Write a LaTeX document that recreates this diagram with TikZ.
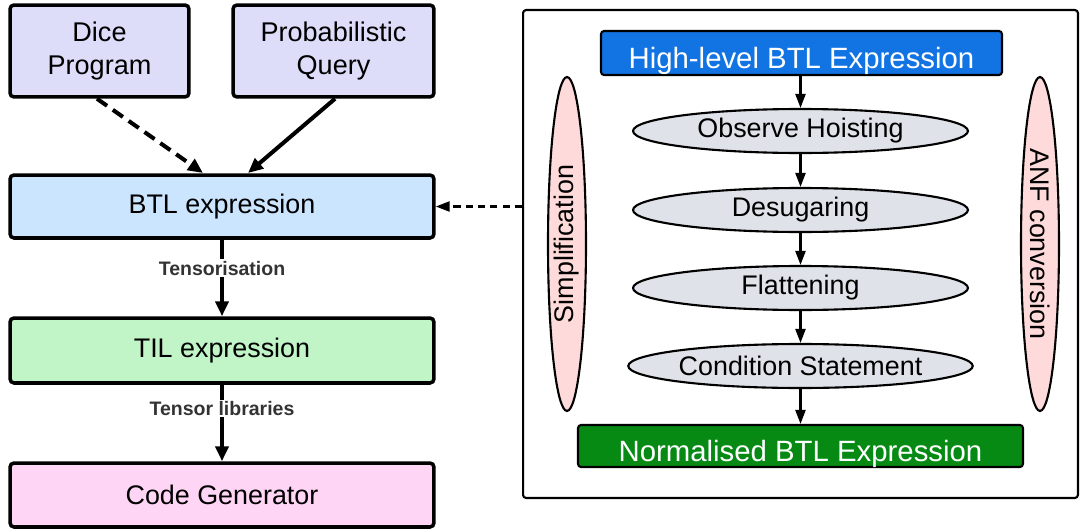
\documentclass[tikz,border=0pt]{standalone}
\usepackage{fontspec}
\setmainfont{Liberation Sans}
\usetikzlibrary{arrows.meta,shapes.geometric}

\definecolor{querycol}{RGB}{221,221,250}
\definecolor{btlcol}{RGB}{204,229,255}
\definecolor{tilcol}{RGB}{193,245,200}
\definecolor{codecol}{RGB}{255,213,245}
\definecolor{highcol}{RGB}{18,115,227}
\definecolor{normcol}{RGB}{6,138,20}
\definecolor{passcol}{RGB}{223,226,232}
\definecolor{sidecol}{RGB}{255,218,218}
\definecolor{labcol}{RGB}{51,51,51}

\tikzset{
  bigbox/.style={draw, line width=2pt, rounded corners=0.08cm, inner sep=0pt,
                 align=center, font=\fontsize{15.3}{18}\selectfont},
  topbox/.style={draw, line width=1.2pt, rounded corners=0.06cm, inner sep=0pt,
                 text=white, text height=0.62cm, text depth=0pt,
                 font=\fontsize{16.7}{20}\selectfont},
  pass/.style={draw, ellipse, fill=passcol, line width=1.2pt, inner sep=0pt,
               minimum width=6.7cm, minimum height=0.88cm,
               font=\fontsize{15.3}{18}\selectfont},
  side/.style={draw, ellipse, fill=sidecol, line width=1.2pt, inner sep=0pt,
               minimum width=6.68cm, minimum height=0.76cm,
               font=\fontsize{15.3}{18}\selectfont},
  flow/.style={line width=2.3pt, -{Triangle[length=0.3cm,width=0.26cm]}},
  step arrow/.style={line width=1.3pt, -{Triangle[length=0.28cm,width=0.2cm]}},
  steplabel/.style={fill=white, inner sep=1pt, text=labcol,
                    font=\fontsize{11.1}{13}\selectfont\bfseries}
}

\begin{document}
\begin{tikzpicture}[x=0.02cm, y=-0.02cm]
    \useasboundingbox (0,0) rectangle (1080,531);

    % left column
    \node[bigbox, fill=querycol, minimum width=3.58cm, minimum height=1.84cm,
          font=\fontsize{15.4}{18.6}\selectfont] (dice) at (99.5,51) {Dice\\Program};
    \node[bigbox, fill=querycol, minimum width=4.02cm, minimum height=1.84cm,
          font=\fontsize{15.4}{18.6}\selectfont] (query) at (333.5,51) {Probabilistic\\Query};
    \node[bigbox, fill=btlcol, minimum width=8.48cm, minimum height=1.26cm] (btl) at (222,206.5) {BTL expression};
    \node[bigbox, fill=tilcol, minimum width=8.48cm, minimum height=1.3cm] (til) at (222,350.5) {TIL expression};
    \node[bigbox, fill=codecol, minimum width=8.48cm, minimum height=1.28cm] (code) at (222,495) {Code Generator};

    \coordinate (dicein) at (203,173);
    \coordinate (queryin) at (248,173);
    \draw[flow, dashed, dash pattern=on 7pt off 4pt] (dice.south) ++(-2.5,0) -- (dicein);
    \draw[flow] (query.south) ++(1.5,0) -- (queryin);
    \draw[flow] (btl) -- node[steplabel, pos=0.37] {Tensorisation} (til);
    \draw[flow] (til) -- node[steplabel, pos=0.31] {Tensor libraries} (code);

    % right panel
    \node[draw, line width=1.2pt, rounded corners=0.06cm, minimum width=11.1cm,
          minimum height=9.76cm] (panel) at (800.5,254) {};
    \node[topbox, fill=highcol, minimum width=8.02cm, minimum height=0.88cm] (high) at (801.5,53) {High-level BTL Expression};
    \node[pass] (hoist) at (800.5,131) {Observe Hoisting};
    \node[pass] (desugar) at (800.5,210) {Desugaring};
    \node[pass] (flatten) at (800.5,288) {Flattening};
    \node[pass] (cond) at (800.5,366) {Condition Statement};
    \node[topbox, fill=normcol, minimum width=8.9cm, minimum height=0.84cm] (norm) at (800.5,446) {Normalised BTL Expression};

    \node[side, rotate=90] (simp) at (567,244) {Simplification};
    \node[side, rotate=-90] (anf) at (1040,244) {ANF conversion};

    \draw[step arrow] (high.south -| hoist.north) -- (hoist);
    \draw[step arrow] (hoist) -- (desugar);
    \draw[step arrow] (desugar) -- (flatten);
    \draw[step arrow] (flatten) -- (cond);
    \draw[step arrow] (cond) -- (cond.south |- norm.north);

    \draw[line width=1.3pt, dashed, dash pattern=on 4pt off 3pt,
          -{Triangle[length=0.28cm,width=0.2cm]}] (panel.west |- btl.east) -- (btl.east);
\end{tikzpicture}
\end{document}
